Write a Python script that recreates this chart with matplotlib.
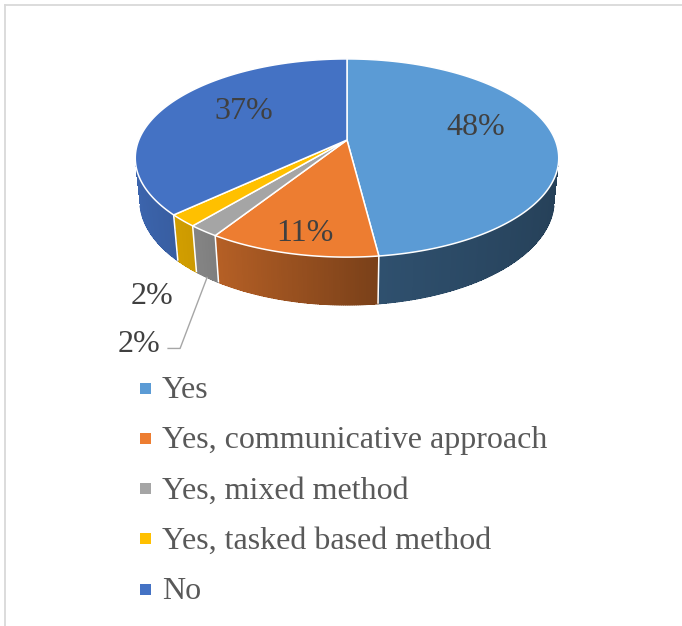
import numpy as np
import matplotlib
matplotlib.use("Agg")
import matplotlib.pyplot as plt
from matplotlib.patches import Polygon, Rectangle
from matplotlib.colors import to_rgb

# ---- data -------------------------------------------------------------
categories = ["Yes", "Yes, communicative approach", "Yes, mixed method",
              "Yes, tasked based method", "No"]
shares = [48, 11, 2, 2, 37]
labels = [f"{v}%" for v in shares]
colors = ["#5B9BD5", "#ED7D31", "#A5A5A5", "#FFC000", "#4472C4"]

# ---- canvas (pixel coordinates, y downwards) --------------------------
W, H = 682, 626
fig = plt.figure(figsize=(W / 100, H / 100), dpi=100)
ax = fig.add_axes([0, 0, 1, 1])
ax.set_xlim(0, W)
ax.set_ylim(H, 0)
ax.axis("off")

SERIF = ["Liberation Serif", "DejaVu Serif"]

# ---- 3-D view of a unit-radius disc ------------------------------------
elev = np.radians(27.4)
cam = 4.88          # camera distance (in radii)
focal = 1016.0      # projection scale
thick = 0.231       # disc thickness (in radii)
cx, cy = 347.0, 140.0
ce, se = np.cos(elev), np.sin(elev)


def project(u, v, z):
    up = v * se + z * ce
    dep = v * ce - z * se
    k = focal / (cam + dep)
    return cx + u * k, cy - up * k


def rim(phi_deg, r=1.0, z=0.0):
    p = np.radians(phi_deg)
    return project(r * np.sin(p), r * np.cos(p), z)


def side_factor(u):
    return np.interp(u, [-1.0, -0.6, 0.1, 1.0], [0.89, 0.79, 0.52, 0.41])


def facing(phi_deg):
    return np.cos(np.radians(phi_deg)) < -1.0 / (cam * ce)


total = float(sum(shares))
bounds = np.concatenate([[0.0], np.cumsum(shares) / total * 360.0])

# ---- side wall (only the part facing the camera) ----------------------
for i, col in enumerate(colors):
    a0, a1 = bounds[i], bounds[i + 1]
    n = max(2, int((a1 - a0) / 0.5))
    angs = np.linspace(a0, a1, n + 1)
    base = np.array(to_rgb(col))
    for j in range(n):
        m = 0.5 * (angs[j] + angs[j + 1])
        if not facing(m):
            continue
        t0, t1 = rim(angs[j]), rim(angs[j + 1])
        b0, b1 = rim(angs[j], z=-thick), rim(angs[j + 1], z=-thick)
        shade = np.clip(base * side_factor(np.sin(np.radians(m))), 0, 1)
        ax.add_patch(Polygon([t0, t1, b1, b0], closed=True, facecolor=shade,
                             edgecolor="none", antialiased=False, zorder=2))
        # smooth the lower rim of the wall
        ax.plot([b0[0], b1[0]], [b0[1], b1[1]], color=shade, lw=0.9,
                solid_capstyle="round", zorder=2)

# white seams between slices on the wall
for a in bounds[1:-1]:
    if facing(a):
        t, b = rim(a), rim(a, z=-thick)
        ax.plot([t[0], b[0]], [t[1], b[1]], color="white", lw=1.1,
                zorder=3, solid_capstyle="butt")

# ---- top face ---------------------------------------------------------
apex = project(0, 0, 0)
for i, col in enumerate(colors):
    a0, a1 = bounds[i], bounds[i + 1]
    angs = np.linspace(a0, a1, max(3, int((a1 - a0) / 0.5)) + 1)
    pts = [apex] + [rim(a) for a in angs]
    ax.add_patch(Polygon(pts, closed=True, facecolor=col, edgecolor="white",
                         linewidth=1.1, joinstyle="round", zorder=4))

# ---- data labels ------------------------------------------------------
label_color = "#404040"
fs = 23
# radius on the top face and a small horizontal nudge (px) per label
inside_pos = {0: (0.62, 0), 1: (0.92, 8), 4: (0.56, 0)}
lift = 0.045
for i, (r, dx) in inside_pos.items():
    mid = np.radians(0.5 * (bounds[i] + bounds[i + 1]))
    x, y = project(r * np.sin(mid), r * np.cos(mid), lift)
    ax.text(x + dx, y, labels[i], ha="center", va="center", fontsize=fs,
            family=SERIF, color=label_color, zorder=6)

# small slices: labels outside, the mixed-method one with a leader line
mid3 = 0.5 * (bounds[3] + bounds[4])
ax3 = rim(mid3, z=-thick)
ax.text(ax3[0] - 35, ax3[1] + 37, labels[3], ha="center", va="baseline",
        fontsize=fs, family=SERIF, color=label_color, zorder=6)

mid2 = 0.5 * (bounds[2] + bounds[3])
ax2 = rim(mid2, z=-thick)
elbow = (ax2[0] - 27, ax2[1] + 71)
end = (elbow[0] - 12, elbow[1])
ax.plot([ax2[0], elbow[0], end[0]], [ax2[1], elbow[1], end[1]],
        color="#A6A6A6", lw=1.0, zorder=5)
ax.text(end[0] - 29, end[1] + 4, labels[2], ha="center", va="baseline",
        fontsize=fs, family=SERIF, color=label_color, zorder=6)

# ---- legend -----------------------------------------------------------
leg_x, leg_y0, leg_dy = 140, 398, 50.3
for i, (name, col) in enumerate(zip(categories, colors)):
    base_y = leg_y0 + i * leg_dy
    ax.add_patch(Rectangle((leg_x, base_y - 15.5), 11, 11, facecolor=col,
                           edgecolor="none", zorder=5))
    ax.text(leg_x + 22, base_y, name, ha="left", va="baseline", fontsize=fs,
            family=SERIF, color="#595959", zorder=5)

# ---- chart-area frame (top and left edges) ----------------------------
ax.plot([5, W], [5, 5], color="#D9D9D9", lw=1.3, zorder=1)
ax.plot([5, 5], [5, H], color="#D9D9D9", lw=1.3, zorder=1)

fig.savefig("out.png", dpi=100, facecolor="white")
